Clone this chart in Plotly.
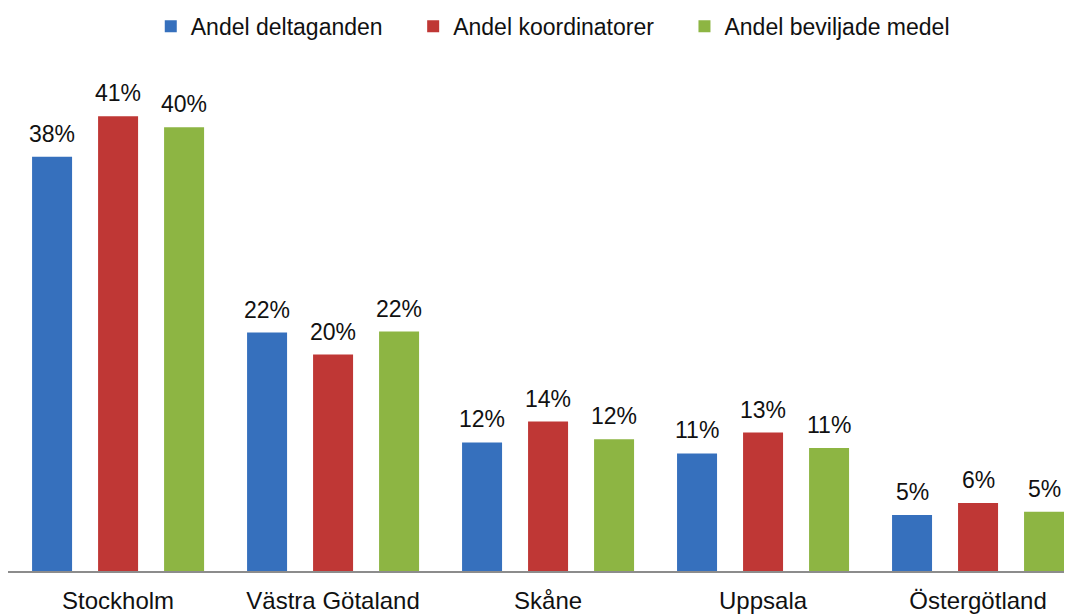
import plotly.graph_objects as go

categories = ["Stockholm", "Västra Götaland", "Skåne", "Uppsala", "Östergötland"]
series_names = ["Andel deltaganden", "Andel koordinatorer", "Andel beviljade medel"]
deltaganden = [37.7, 21.7, 11.7, 10.7, 5.1]
koordinatorer = [41.4, 19.7, 13.6, 12.6, 6.2]
beviljade = [40.4, 21.8, 12.0, 11.2, 5.4]
colors = ["#3670bd", "#bf3735", "#8db543"]

FONT = "Liberation Sans, Arial, sans-serif"
NB = "\u00a0" * 4
series = [deltaganden, koordinatorer, beviljade]
fig = go.Figure()
for i, (name, vals, col) in enumerate(zip(series_names, series, colors)):
    fig.add_trace(go.Bar(
        x=categories, y=vals, name=name + (NB if i < 2 else ""),
        marker=dict(color=col, line=dict(width=0)),
        hoverinfo="skip",
    ))

shifts = [-66, 0, 66]
for vals, sh in zip(series, shifts):
    for c, v in zip(categories, vals):
        fig.add_annotation(
            x=c, y=v, text=f"{round(v)}%", showarrow=False,
            xshift=sh, yshift=8, yanchor="bottom",
            font=dict(family=FONT, size=23, color="#111"),
        )

# page body has an 8px margin, so the figure is 8px smaller than the window
fig.update_layout(
    width=1064, height=606,
    margin=dict(l=0, r=0, t=67, b=41),
    paper_bgcolor="white", plot_bgcolor="white",
    barmode="group", bargap=0.079, bargroupgap=0.394,
    font=dict(family=FONT, size=23, color="#111"),
    legend=dict(orientation="h", x=0.512, xanchor="center", y=0.97, yanchor="middle",
                yref="container", font=dict(size=23), itemwidth=30, traceorder="normal"),
    showlegend=True,
)
fig.update_xaxes(range=[-0.512, 4.437], showline=True, linecolor="#8c8c8c", linewidth=2,
                 ticks="", tickfont=dict(size=24), ticklabelstandoff=7,
                 showgrid=False, fixedrange=True)
fig.update_yaxes(range=[0, 45.15], visible=False, showgrid=False, zeroline=False)

fig.write_html("out.html")
